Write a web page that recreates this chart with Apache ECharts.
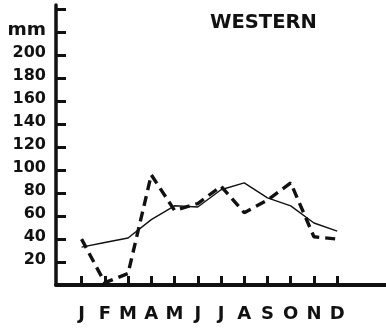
<!DOCTYPE html>
<html>
<head>
<meta charset="utf-8">
<script src="https://cdn.jsdelivr.net/npm/echarts@6/dist/echarts.min.js"></script>
<style>html,body{margin:0;padding:0;background:#fff}#c{width:386px;height:331px}</style>
</head>
<body>
<div id="c"></div>
<script>
const months = ['J','F','M','A','M','J','J','A','S','O','N','D'];
const averageMm = [33, 37, 41, 57, 69, 68, 83, 89, 76, 69, 54, 47];
const yearMm = [40, 2, 10, 96, 65, 71, 86, 63, 74, 89, 42, 40];
const yTickLabels = ['', '20', '40', '60', '80', '100', '120', '140', '160', '180', '200', 'mm', ''];
const titleText = 'WESTERN';

const chart = echarts.init(document.getElementById('c'), null, {renderer: 'canvas'});
const ink = '#111';
const monthIdx = months.map((m, i) => i);
chart.setOption({
  animation: false,
  backgroundColor: '#fff',
  title: {
    text: titleText, left: 205, top: 8,
    textStyle: {fontFamily: 'DejaVu Sans', fontWeight: 'bold', fontSize: 19.5, color: ink}
  },
  grid: {left: 56, right: 0, top: 5, bottom: 46},
  xAxis: {
    type: 'value', min: -1.1, max: 13.1,
    splitLine: {show: false},
    axisLine: {show: true, onZero: false, lineStyle: {color: ink, width: 4}},
    axisTick: {show: true, inside: true, length: 9, customValues: monthIdx, lineStyle: {color: ink, width: 3}},
    axisLabel: {
      show: true, customValues: monthIdx, margin: 20,
      formatter: v => months[Math.round(v)] || '',
      fontFamily: 'DejaVu Sans', fontWeight: 'bold', fontSize: 18, color: ink
    }
  },
  yAxis: {
    type: 'value', min: 0, max: 244, interval: 20,
    splitLine: {show: false},
    axisLine: {show: true, onZero: false, lineStyle: {color: ink, width: 3.5}},
    axisTick: {show: true, inside: true, length: 10, lineStyle: {color: ink, width: 3}},
    axisLabel: {
      show: true, margin: 10, showMaxLabel: false,
      formatter: v => {
        const t = yTickLabels[Math.round(v / 20)] || '';
        return t === 'mm' ? '{u|' + t + '}' : t;
      },
      rich: {u: {fontFamily: 'DejaVu Sans', fontWeight: 'bold', fontSize: 18.5, color: ink}},
      padding: [0, 0, 5, 0],
      fontFamily: 'DejaVu Sans', fontWeight: 'bold', fontSize: 16, color: ink
    }
  },
  series: [
    {
      type: 'line', symbol: 'none', z: 3,
      data: averageMm.map((v, i) => [i, v]),
      lineStyle: {color: ink, width: 1.4}
    },
    {
      type: 'line', symbol: 'none', z: 4,
      data: yearMm.map((v, i) => [i, v]),
      lineStyle: {color: ink, width: 3.4, type: [10, 6]}
    }
  ]
});
</script>
</body>
</html>
